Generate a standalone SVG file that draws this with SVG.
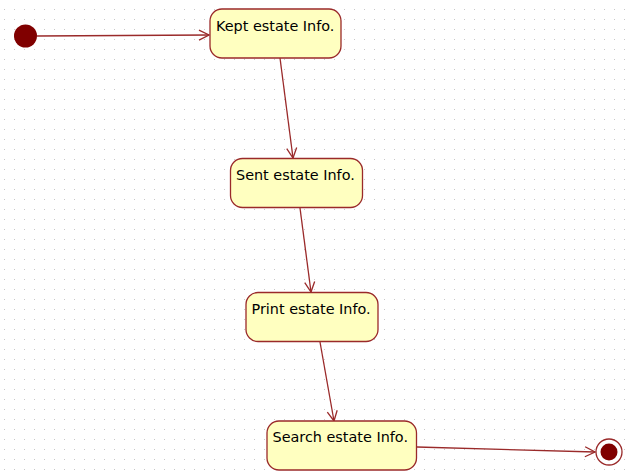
<svg xmlns="http://www.w3.org/2000/svg" width="628" height="473" viewBox="0 0 628 473">
<style>
.node rect{fill:#ffffc0;stroke:#9a2a2a;stroke-width:1.3}
.node text{font-family:"DejaVu Sans",sans-serif;font-size:14.4px;fill:#000}
.conn line{stroke:#9a2a2a;stroke-width:1.3;marker-end:url(#arr)}
</style>
<defs>
<pattern id="grid" x="4" y="9" width="10" height="10" patternUnits="userSpaceOnUse">
<rect x="0" y="0" width="1" height="1" fill="#c8c8c8"/>
</pattern>
<marker id="arr" viewBox="0 0 12 12" refX="11" refY="6" markerWidth="12" markerHeight="12" markerUnits="userSpaceOnUse" orient="auto">
<path d="M1,1 L11,6 L1,11" fill="none" stroke="#9a2a2a" stroke-width="1.3"/>
</marker>
</defs>
<rect width="628" height="473" fill="#ffffff"/>
<rect width="628" height="473" fill="url(#grid)"/>
<g class="conn">
<line x1="37" y1="36" x2="209" y2="35"/>
<line x1="280" y1="58" x2="293" y2="158"/>
<line x1="300" y1="208" x2="311" y2="292"/>
<line x1="320" y1="342" x2="334" y2="421"/>
<line x1="417" y1="447" x2="595" y2="452"/>
</g>
<g id="initial"><circle cx="25.5" cy="36" r="11.5" fill="#800000"/></g>
<g id="kept" class="node"><rect x="210" y="9" width="131" height="49" rx="12"/><text x="216" y="31">Kept estate Info.</text></g>
<g id="sent" class="node"><rect x="230.5" y="158.5" width="132" height="49" rx="12"/><text x="236" y="180">Sent estate Info.</text></g>
<g id="print" class="node"><rect x="246" y="292.5" width="132" height="49" rx="12"/><text x="251.5" y="314">Print estate Info.</text></g>
<g id="search" class="node"><rect x="267" y="421" width="149.5" height="49" rx="12"/><text x="272.5" y="442">Search estate Info.</text></g>
<g id="final"><circle cx="609" cy="452" r="13" fill="#ffffff" stroke="#9a2a2a" stroke-width="1.3"/><circle cx="609" cy="452" r="8.5" fill="#800000"/></g>
</svg>
